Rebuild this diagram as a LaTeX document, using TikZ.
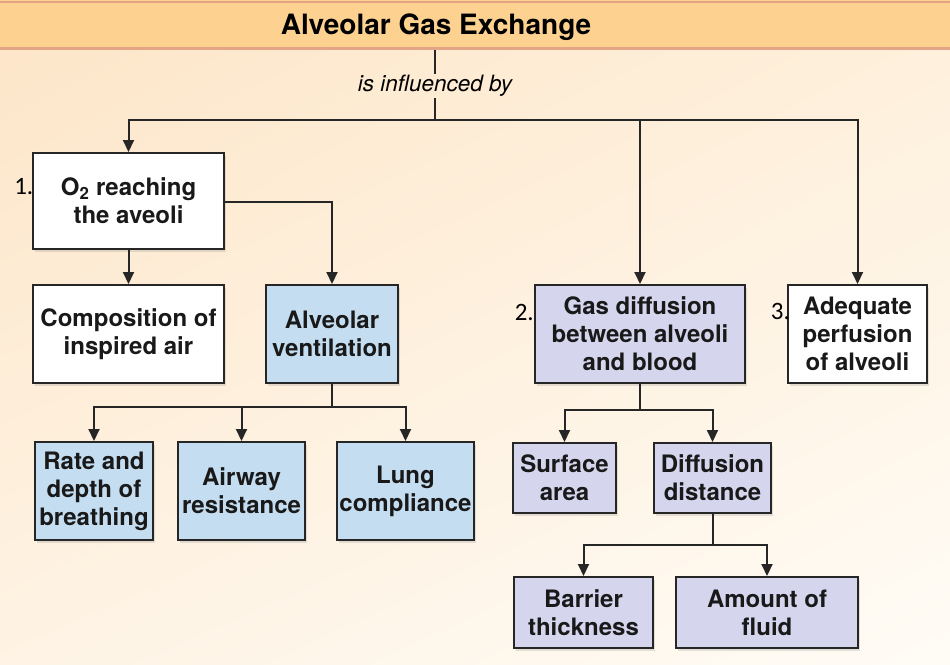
\documentclass[tikz,border=0pt]{standalone}
\usepackage{fontspec}
\setmainfont{TeX Gyre Heros}
\newfontfamily\numfont{Carlito}
\usetikzlibrary{arrows.meta,shadows,shadings,calc}
\definecolor{bannerfill}{HTML}{FDD290}
\definecolor{bannerline}{HTML}{E3A585}
\definecolor{bgul}{HTML}{FDE6C9}
\definecolor{bgur}{HTML}{FEF0DC}
\definecolor{bgll}{HTML}{FEF3E4}
\definecolor{bglr}{HTML}{FFFCF6}
\definecolor{boxblue}{HTML}{C4DDF0}
\definecolor{boxpurple}{HTML}{D5D5EE}
\definecolor{linec}{HTML}{262626}
\tikzset{
  bx/.style={draw=linec, line width=2pt, fill=white, inner sep=0pt, align=center,
    text=black!90, font=\bfseries\fontsize{24}{28}\selectfont,
    drop shadow={shadow xshift=2pt, shadow yshift=-3pt, opacity=0.22}},
  bblue/.style={bx, fill=boxblue},
  bpurp/.style={bx, fill=boxpurple},
  ln/.style={draw=linec, line width=2pt},
  arr/.style={ln, -{Triangle[length=12pt,width=11pt]}},
  numlab/.style={anchor=east, inner sep=0pt, font=\numfont\fontsize{25}{28}\selectfont}
}
\begin{document}
\begin{tikzpicture}[x=1pt,y=-1pt]
\useasboundingbox (0,0) rectangle (950,664);
% background
\shade[upper left=bgul, upper right=bgur, lower left=bgll, lower right=bglr] (0,48) rectangle (950,664);
% banner
\fill[bannerfill] (0,0) rectangle (950,48);
\draw[bannerline, line width=2pt] (0,1.5) -- (950,1.5);
\draw[bannerline, line width=3pt] (0,48) -- (950,48);
\node[inner sep=0pt, font=\bfseries\fontsize{28}{30}\selectfont] (title) at (436,27) {Alveolar Gas Exchange};
\node[inner sep=1pt, font=\itshape\fontsize{22.5}{24}\selectfont] (infl) at (435,86) {is influenced by};
\coordinate (t0) at (435,50);
\coordinate (bus) at (435,120);
\draw[ln] (t0) -- (t0 |- infl.north);
\draw[ln] (infl.south -| bus) -- (bus);

% boxes
\node[bx, minimum width=191pt, minimum height=96pt] (o2) at (128.5,201) {O\textsubscript{2} reaching\\the aveoli};
\node[bx, minimum width=191pt, minimum height=98pt] (comp) at (128.5,334) {Composition of\\inspired air};
\node[bblue, minimum width=132pt, minimum height=98pt] (avent) at (332,334) {Alveolar\\ventilation};
\node[bblue, minimum width=118pt, minimum height=98pt] (rate) at (94,491) {Rate and\\depth of\\breathing};
\node[bblue, minimum width=127pt, minimum height=98pt] (airway) at (241.5,491) {Airway\\resistance};
\node[bblue, minimum width=137pt, minimum height=98pt] (lung) at (405.5,491) {Lung\\compliance};
\node[bpurp, minimum width=210pt, minimum height=98pt] (gas) at (640,334) {Gas diffusion\\between alveoli\\and blood};
\node[bx, minimum width=139pt, minimum height=98pt] (adeq) at (857.5,334) {Adequate\\perfusion\\of alveoli};
\node[bpurp, minimum width=103pt, minimum height=70pt] (surf) at (564.5,478) {Surface\\area};
\node[bpurp, minimum width=117pt, minimum height=70pt] (diff) at (712.5,478) {Diffusion\\distance};
\node[bpurp, minimum width=139pt, minimum height=71pt] (barrier) at (583.5,612.5) {Barrier\\thickness};
\node[bpurp, minimum width=182pt, minimum height=71pt] (fluid) at (767,612.5) {Amount of\\fluid};

% number labels
\node[numlab] (n1) at (33.5,187) {1.};
\node[numlab] (n2) at (534,312) {2.};
\node[numlab] (n3) at (790,311) {3.};

% connectors
\draw[arr] (bus) -| (o2.north);
\draw[arr] (bus) -| (gas.north);
\draw[arr] (bus) -| (adeq.north);
\draw[arr] (o2.south) -- (comp.north);
\draw[arr] (o2.east |- 0,202) -| (avent.north);
\coordinate (j1) at (332,407);
\draw[ln] (avent.south) -- (j1);
\draw[arr] (j1) -| (rate.north);
\draw[arr] (j1) -| (airway.north);
\draw[arr] (j1) -| (lung.north);
\coordinate (j2) at (640,410);
\draw[ln] (gas.south) -- (j2);
\draw[arr] (j2) -| (surf.north);
\draw[arr] (j2) -| (diff.north);
\coordinate (j3) at (712.5,545);
\draw[ln] (diff.south) -- (j3);
\draw[arr] (j3) -| (barrier.north);
\draw[arr] (j3) -| (fluid.north);
\end{tikzpicture}
\end{document}
